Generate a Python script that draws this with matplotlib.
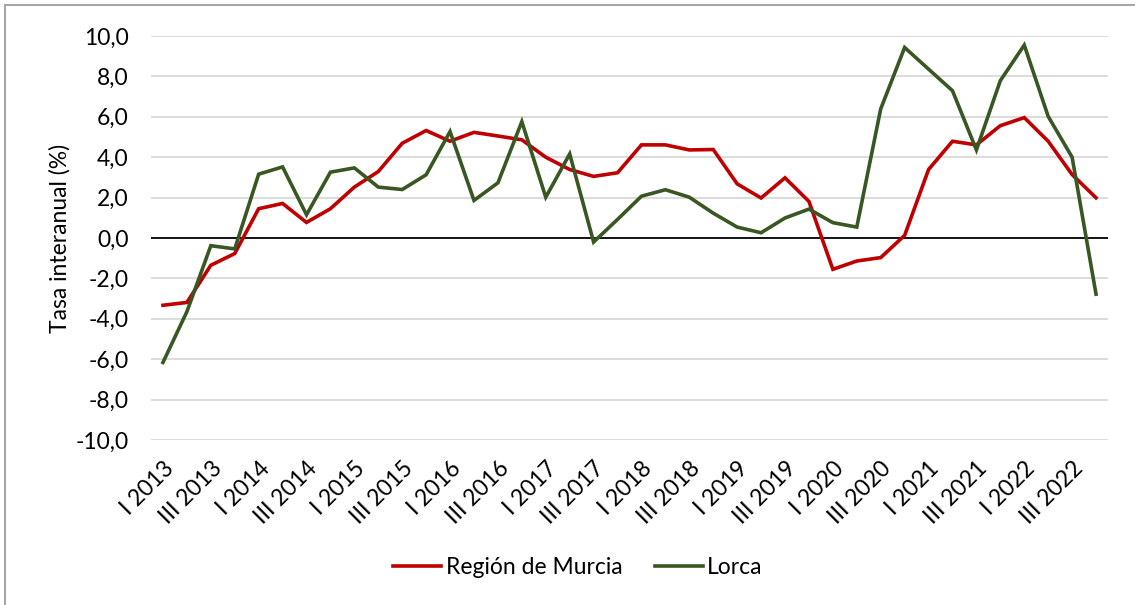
import matplotlib
matplotlib.use("Agg")
import matplotlib.pyplot as plt
from matplotlib.patches import Rectangle

years = list(range(2013, 2023))
roman = ["I", "II", "III", "IV"]
quarters = [f"{r} {y}" for y in years for r in roman]

murcia = [-3.33, -3.19, -1.35, -0.77, 1.45, 1.71, 0.77, 1.45, 2.52, 3.29,
          4.69, 5.32, 4.79, 5.23, 5.05, 4.86, 4.00, 3.39, 3.05, 3.23,
          4.61, 4.61, 4.36, 4.38, 2.68, 1.98, 2.98, 1.81, -1.55, -1.14,
          -0.97, 0.13, 3.39, 4.79, 4.61, 5.56, 5.96, 4.79, 3.14, 1.99]
lorca = [-6.16, -3.65, -0.38, -0.54, 3.16, 3.52, 1.15, 3.26, 3.47, 2.52,
         2.40, 3.13, 5.27, 1.86, 2.73, 5.76, 2.02, 4.16, -0.20, 0.92,
         2.07, 2.39, 2.02, 1.23, 0.54, 0.26, 0.99, 1.43, 0.76, 0.54,
         6.39, 9.43, 8.36, 7.29, 4.36, 7.79, 9.55, 6.02, 4.00, -2.78]

series_names = ["Región de Murcia", "Lorca"]
colors = ["#C00000", "#385723"]
y_ticks = [-10, -8, -6, -4, -2, 0, 2, 4, 6, 8, 10]

plt.rcParams['font.family'] = ['Lato', 'DejaVu Sans']
FS = 16.5

fig = plt.figure(figsize=(11.35, 6.05), dpi=100)
ax = fig.add_axes([151/1135, 1-440/605, (1108-151)/1135, (440-36)/605])

x = list(range(len(quarters)))
for vals, name, c in zip([murcia, lorca], series_names, colors):
    ax.plot(x, vals, color=c, lw=2.6, label=name, solid_joinstyle='miter', zorder=3)

ax.set_xlim(-0.5, len(quarters) - 0.5)
ax.set_ylim(-10, 10)
ax.set_yticks(y_ticks)
ax.set_yticklabels([f"{v:.1f}".replace(".", ",") for v in y_ticks], fontsize=FS)
for v in y_ticks:
    if v == 0:
        ax.axhline(v, color="black", lw=1.3, zorder=2)
    else:
        ax.axhline(v, color="#D9D9D9", lw=1.3, zorder=1)

ax.set_xticks(x[::2])
ax.set_xticklabels(quarters[::2], rotation=45, ha='right', rotation_mode='anchor', fontsize=FS)
ax.tick_params(axis='both', length=0)
ax.tick_params(axis='y', pad=16)
ax.tick_params(axis='x', pad=13)
for s in ax.spines.values():
    s.set_visible(False)

ax.set_ylabel("Tasa interanual (%)", fontsize=FS, labelpad=4)

leg = fig.legend(loc='center', bbox_to_anchor=(578/1135, 1-568/605), ncol=2, frameon=False,
                 fontsize=FS, handlelength=2.1, handletextpad=0.2, columnspacing=1.4)

fig.patches.append(Rectangle((5/1135, -0.1), 1.2, 1-5/605+0.1, transform=fig.transFigure,
                             fill=False, edgecolor="#A6A6A6", lw=1.5))

fig.savefig("out.png", dpi=100)
